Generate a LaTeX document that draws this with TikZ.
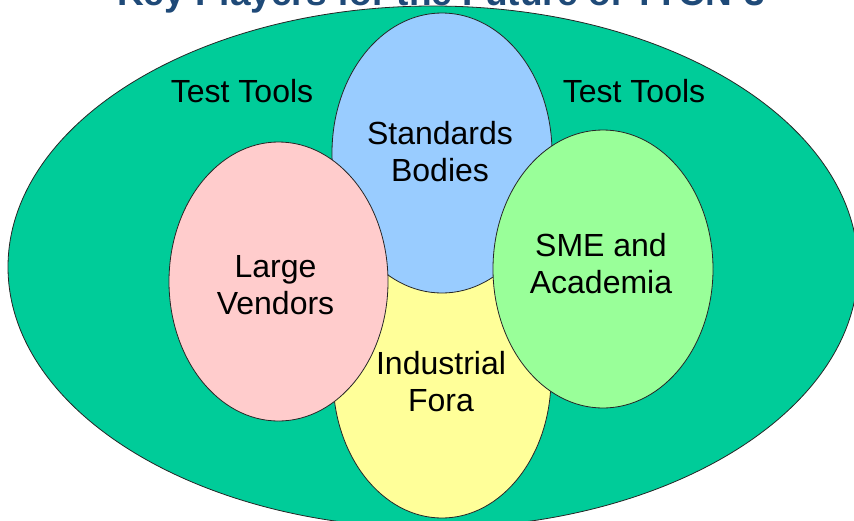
\documentclass[tikz,border=0pt]{standalone}
\usepackage{fontspec}
\setmainfont{Liberation Sans}
\usetikzlibrary{shapes.geometric}
\definecolor{toolgreen}{HTML}{00CC99}
\definecolor{stdblue}{HTML}{99CCFF}
\definecolor{forayellow}{HTML}{FFFF99}
\definecolor{vendorpink}{HTML}{FFCCCC}
\definecolor{smegreen}{HTML}{99FF99}
\definecolor{titleblue}{HTML}{1F4A78}
\tikzset{player/.style={ellipse,draw=black!85,line width=0.8pt,inner sep=0pt},
         plainlabel/.style={align=center,font=\fontsize{32}{37}\selectfont},
         headline/.style={font=\bfseries\fontsize{37}{40}\selectfont,text=titleblue}}

\begin{document}
\begin{tikzpicture}[x=1pt,y=-1pt]
  % page frame (pixels of the slide, y downwards)
  \useasboundingbox (0,0) rectangle (854,520);
  \clip (0,0) rectangle (854,520);
  %
  % title, cut off by the top edge
  \node[headline,anchor=base] (title) at (441,5) {Key Players for the Future of TTCN-3};
  %
  % the big one round everything
  \node[player,fill=toolgreen,minimum width=850pt,minimum height=522pt] (tools) at (433,267) {};
  \node[plainlabel] (toolsleft)  at (242,91) {Test Tools};
  \node[plainlabel] (toolsright) at (634,91) {Test Tools};
  %
  % inner players (order matters: later ones lie on top)
  \node[player,fill=forayellow,minimum width=218pt,minimum height=280pt] (fora)    at (442,378)   {};
  \node[player,fill=stdblue,minimum width=220pt,minimum height=280pt]    (bodies)  at (442,153)   {};
  \node[player,fill=vendorpink,minimum width=219pt,minimum height=279pt] (vendors) at (278.5,281.5) {};
  \node[player,fill=smegreen,minimum width=220pt,minimum height=278pt]   (sme)     at (603,269)   {};
  %
  % their names
  \node[plainlabel] (foratext)    at ([xshift=-1pt,yshift=-4pt]fora.center)    {Industrial\\Fora};
  \node[plainlabel] (bodiestext)  at ([xshift=-2pt,yshift=1pt]bodies.center)   {Standards\\Bodies};
  \node[plainlabel] (vendorstext) at ([xshift=-3pt,yshift=-4pt]vendors.center) {Large\\Vendors};
  \node[plainlabel] (smetext)     at ([xshift=-2pt,yshift=5pt]sme.center)       {SME and\\Academia};
\end{tikzpicture}
\end{document}
